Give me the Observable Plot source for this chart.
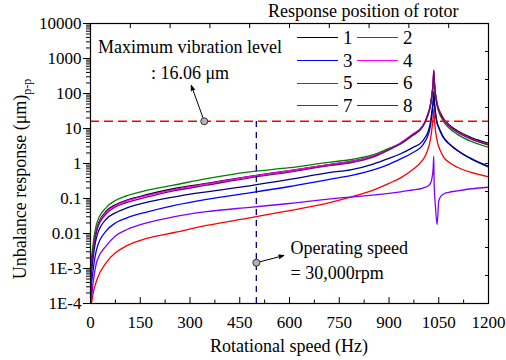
<!DOCTYPE html>
<html><head><meta charset="utf-8">
<script src="https://cdn.jsdelivr.net/npm/d3@7"></script>
<script src="https://cdn.jsdelivr.net/npm/@observablehq/plot@0.6"></script>
<style>
body{margin:0;background:#fff;}
#wrap{position:relative;width:506px;height:360px;font-family:"Liberation Serif","Times New Roman",serif;color:#000;}
#wrap svg{position:absolute;left:0;top:0;}
.lg{position:absolute;white-space:nowrap;}
</style></head><body><div id="wrap"></div>
<script>
// ---- data ----
const speeds = [0.2, 2, 8, 20, 48, 75, 110, 169, 250, 350, 480, 600, 724, 784, 850, 900, 935, 970, 1000, 1010, 1015, 1025, 1030, 1033, 1035, 1036, 1040, 1045, 1050, 1055, 1065, 1080, 1106, 1150, 1200];
const pos1 = [1e-4, 0.0009, 0.0035, 0.015, 0.044, 0.066, 0.09, 0.128, 0.19, 0.27, 0.43, 0.63, 0.95, 1.15, 1.6, 2.6, 3.8, 6.5, 11, 16.5, 22, 47, 100, 185, 420, 280, 100, 52, 36, 28, 19, 13, 8.6, 5.4, 3.8];
const pos2 = [1e-4, 1e-4, 0.0002, 0.0005, 0.0015, 0.0028, 0.0045, 0.0072, 0.0105, 0.017, 0.028, 0.045, 0.078, 0.11, 0.17, 0.27, 0.39, 0.65, 1.2, 1.7, 2.2, 5, 11, 20, 36, 25, 9, 4.5, 3.0, 2.3, 1.5, 1.1, 0.78, 0.55, 0.42];
const pos3 = [1e-4, 0.00025, 0.0009, 0.004, 0.012, 0.02, 0.028, 0.041, 0.063, 0.095, 0.145, 0.22, 0.36, 0.45, 0.65, 0.95, 1.35, 2.0, 3.2, 4.5, 5.5, 12, 28, 50, 90, 65, 26, 14, 10.5, 8, 5.3, 3.7, 2.35, 1.3, 0.80];
const pos4 = [1e-4, 0.00085, 0.0033, 0.014, 0.041, 0.062, 0.085, 0.12, 0.18, 0.26, 0.42, 0.62, 0.94, 1.13, 1.6, 2.6, 3.9, 6.7, 11.5, 17, 22.5, 48, 105, 195, 470, 290, 100, 50, 34, 26, 18, 12.2, 8, 5, 3.5];
const pos5 = [1e-4, 0.0012, 0.005, 0.021, 0.056, 0.088, 0.12, 0.17, 0.24, 0.37, 0.58, 0.76, 1.1, 1.28, 1.75, 2.7, 3.6, 6.1, 10.5, 15.5, 20.5, 44, 95, 175, 380, 250, 90, 45, 30, 23, 15.5, 10.5, 6.8, 4.2, 2.9];
const pos6 = [1e-4, 0.0005, 0.002, 0.009, 0.026, 0.039, 0.054, 0.078, 0.11, 0.155, 0.23, 0.35, 0.56, 0.66, 0.95, 1.4, 1.9, 2.8, 4.2, 5.8, 7, 15, 35, 60, 115, 80, 30, 15, 11, 8.5, 5.5, 3.8, 2.4, 1.35, 0.83];
const pos7 = [1e-4, 0.00012, 0.0004, 0.0017, 0.0045, 0.0085, 0.013, 0.020, 0.030, 0.042, 0.056, 0.072, 0.098, 0.11, 0.125, 0.14, 0.155, 0.175, 0.195, 0.21, 0.22, 0.27, 0.4, 0.7, 1.6, 0.3, 0.06, 0.018, 0.085, 0.11, 0.135, 0.15, 0.165, 0.19, 0.21];
const pos8 = [1e-4, 0.0008, 0.003, 0.013, 0.037, 0.057, 0.077, 0.109, 0.165, 0.24, 0.39, 0.57, 0.88, 1.05, 1.5, 2.45, 3.7, 6.4, 11, 16.5, 22, 47, 102, 190, 450, 280, 98, 49, 33, 25.5, 17.5, 12, 7.8, 4.9, 3.4];

const seriesNames = ["1", "2", "3", "4", "5", "6", "7", "8"];
const seriesColors = ["#000000", "#ff0000", "#0000ff", "#ff00ff", "#008000", "#000080", "#8000ff", "#800080"];
const seriesValues = [pos1, pos2, pos3, pos4, pos5, pos6, pos7, pos8];

const xMajor = [0, 150, 300, 450, 600, 750, 900, 1050, 1200];
const xMinor = [75, 225, 375, 525, 675, 825, 975, 1125];
const xTopTicks = [0, 120, 240, 360, 480, 600, 720, 840, 960, 1080, 1200];
const yMajor = [1e-4, 1e-3, 0.01, 0.1, 1, 10, 100, 1000, 10000];
const yTickLabels = ["1E-4", "1E-3", "0.01", "0.1", "1", "10", "100", "1000", "10000"];
const yRightTicks = [0,1,2,3,4,5,6,7,8,9,10].map(k => Math.pow(10, -4 + 0.8 * k));
const yMinor = yMajor.slice(0, -1).flatMap(d => [2,3,4,5,6,7,8,9].map(m => d * m));

const maxLevel = 16.06;
const operatingSpeed = 500;
const markerSpeed = [343, 500];
const markerValue = [16.06, 0.00146];
const arrowFrom = [[343, 16.06], [500, 0.00146]];
const arrowTo = [[304, 169], [583, 0.00235]];
const noteText = ["Maximum vibration level\n: 16.06 μm", "Operating speed\n= 30,000rpm"];
const noteSpeed = [300, 603];
const noteValue = [1033, 0.00193];
const noteAnchor = ["middle", "start"];

// ---- build ----
const rows = seriesNames.flatMap((s, i) => speeds.map((f, j) => ({series: s, speed: f, value: seriesValues[i][j]})));
const labelMap = new Map(yMajor.map((d, i) => [d, yTickLabels[i]]));
const markers = markerSpeed.map((x, i) => ({x, y: markerValue[i]}));
const arrows = arrowFrom.map((a, i) => ({x1: a[0], y1: a[1], x2: arrowTo[i][0], y2: arrowTo[i][1]}));
const notes = noteText.map((t, i) => ({t, x: noteSpeed[i], y: noteValue[i], a: noteAnchor[i]}));

const fs = 17, fsBig = 18;
const chart = Plot.plot({
  width: 506, height: 360,
  marginLeft: 90, marginRight: 18, marginTop: 23, marginBottom: 57,
  x: {domain: [0, 1200], label: null},
  y: {type: "log", domain: [1e-4, 1e4], label: null},
  color: {domain: seriesNames, range: seriesColors},
  style: {fontFamily: "'Liberation Serif','Times New Roman',serif", fontSize: fs + "px", color: "black", background: "white"},
  marks: [
    Plot.line(rows, {x: "speed", y: "value", z: "series", stroke: "series", strokeWidth: 1.3, curve: "monotone-x", clip: true}),
    Plot.ruleY([maxLevel], {stroke: "#ff0000", strokeWidth: 1.6, strokeDasharray: "9,5"}),
    Plot.ruleX([operatingSpeed], {y1: 1e-4, y2: maxLevel, stroke: "#000080", strokeWidth: 1.3, strokeDasharray: "6,5"}),
    Plot.arrow(arrows, {x1: "x1", y1: "y1", x2: "x2", y2: "y2", stroke: "black", strokeWidth: 1, headLength: 8, headAngle: 40, insetStart: 4}),
    Plot.dot(markers, {x: "x", y: "y", r: 3.5, fill: "#b4b4b4", stroke: "#333", strokeWidth: 1}),
    Plot.text(notes.filter(d => d.a === "middle"), {x: "x", y: "y", text: "t", textAnchor: "middle", lineAnchor: "middle", lineHeight: 1.4, fontSize: fsBig, fill: "black"}),
    Plot.text(notes.filter(d => d.a === "start"), {x: "x", y: "y", text: "t", textAnchor: "start", lineAnchor: "middle", lineHeight: 1.4, fontSize: fsBig, fill: "black"}),
    Plot.frame({stroke: "black", strokeWidth: 1.2}),
    // bottom axis
    Plot.axisX({ticks: xMajor, tickSize: 0, tickPadding: 12, label: null, tickFormat: d => String(d)}),
    Plot.axisX({ticks: xMajor, tickSize: -6, label: null, tickFormat: () => ""}),
    Plot.axisX({ticks: xMinor, tickSize: -3.5, label: null, tickFormat: () => ""}),
    // top ticks
    Plot.axisX({anchor: "top", ticks: xTopTicks, tickSize: -4, label: null, tickFormat: () => ""}),
    // left axis
    Plot.axisY({ticks: yMajor, tickSize: 7, tickPadding: 2, label: null, tickFormat: d => labelMap.get(d)}),
    Plot.axisY({ticks: yMinor, tickSize: 4, label: null, tickFormat: () => ""}),
    // right ticks
    Plot.axisY({anchor: "right", ticks: yRightTicks, tickSize: -4, label: null, tickFormat: () => ""})
  ]
});

const wrap = document.getElementById("wrap");
wrap.appendChild(chart);

const svg = d3.select(chart);
// filled arrow heads
svg.selectAll('g[aria-label="arrow"] path').attr("fill", "black");
// axis titles
svg.append("text").attr("x", 289).attr("y", 352).attr("text-anchor", "middle")
  .attr("font-size", fsBig).attr("fill", "black").text("Rotational speed (Hz)");
const yl = svg.append("text").attr("transform", "translate(26,179) rotate(-90)").attr("text-anchor", "middle")
  .attr("font-size", fsBig).attr("fill", "black");
yl.append("tspan").text("Unbalance response (μm)");
yl.append("tspan").attr("font-size", 12).attr("dy", 5).text("p-p");

// legend (HTML)
const title = document.createElement("div");
title.className = "lg";
title.style.cssText = `left:268px;top:1px;font-size:${fsBig}px;line-height:1.2;`;
title.textContent = "Response position of rotor";
wrap.appendChild(title);
seriesNames.forEach((s, i) => {
  const col = i % 2, row = Math.floor(i / 2);
  const x0 = 297 + col * 60, yc = 37.7 + row * 22.8;
  const ln = document.createElement("div");
  ln.className = "lg";
  ln.style.cssText = `left:${x0}px;top:${yc - 0.7}px;width:41px;height:0;border-top:1.4px solid ${seriesColors[i]};`;
  wrap.appendChild(ln);
  const lb = document.createElement("div");
  lb.className = "lg";
  lb.style.cssText = `left:${x0 + 46}px;top:${yc}px;transform:translateY(-52%);font-size:19px;line-height:1;`;
  lb.textContent = s;
  wrap.appendChild(lb);
});
</script></body></html>
